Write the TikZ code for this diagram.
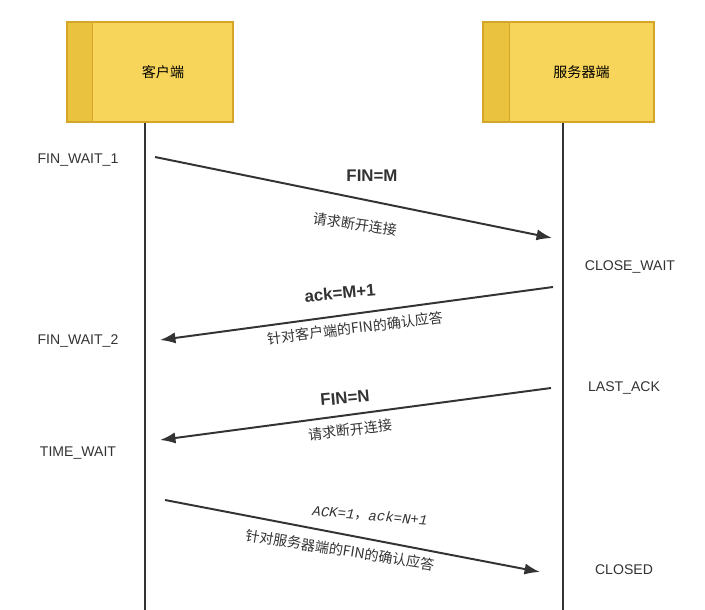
\documentclass[tikz,border=0pt]{standalone}
\usepackage{fontspec}
\setmainfont{Liberation Sans}
\newfontfamily\cjk{Noto Sans CJK SC}
\newfontfamily\monoit{Liberation Mono}
\usetikzlibrary{positioning, arrows.meta}
\definecolor{boxfill}{HTML}{F7D55A}
\definecolor{boxedge}{HTML}{D4A528}
\definecolor{stripe}{HTML}{EBC23F}
\definecolor{ink}{HTML}{333333}
\tikzset{
  party/.style={draw=boxedge, fill=boxfill, line width=0.8pt, minimum width=4.15cm, minimum height=2.5cm, inner sep=0pt, font=\cjk},
  lifeline/.style={draw=ink, line width=0.9pt},
  msg/.style={draw=ink, line width=1.4pt, -{Latex[length=11pt,width=8pt]}},
  state/.style={font=\normalsize, text=ink},
  tag/.style={font=\bfseries\large, text=ink},
  note/.style={font=\cjk\normalsize, text=ink}
}
\begin{document}
\begin{tikzpicture}[x=0.025cm, y=-0.025cm]
  \useasboundingbox (0,0) rectangle (705,610);
  % parties
  \node[party] (client) at (150,72) {\hspace{0.65cm}客户端};
  \node[party, minimum width=4.275cm] (server) at (568.5,72) {\hspace{0.65cm}服务器端};
  \fill[stripe] ([xshift=0.8pt,yshift=-0.8pt]client.north west) rectangle ([xshift=0.65cm,yshift=0.8pt]client.south west);
  \fill[stripe] ([xshift=0.8pt,yshift=-0.8pt]server.north west) rectangle ([xshift=0.675cm,yshift=0.8pt]server.south west);
  \draw[boxedge, line width=0.8pt] ([xshift=0.65cm]client.north west) -- ([xshift=0.65cm]client.south west);
  \draw[boxedge, line width=0.8pt] ([xshift=0.675cm]server.north west) -- ([xshift=0.675cm]server.south west);
  \draw[party, fill=none] (client.north west) rectangle (client.south east);
  \draw[party, fill=none] (server.north west) rectangle (server.south east);
  % lifelines
  \coordinate (cend) at (145,610);
  \coordinate (send) at (563,610);
  \draw[lifeline] (client.south -| cend) -- (cend);
  \draw[lifeline] (server.south -| send) -- (send);
  % states
  \node[state] (fw1) at (78,160) {FIN\_WAIT\_1};
  \node[state] (cw) at (630,267) {CLOSE\_WAIT};
  \node[state] (fw2) at (78,341) {FIN\_WAIT\_2};
  \node[state] (la) at (624,388) {LAST\_ACK};
  \node[state] (tw) at (78,453) {TIME\_WAIT};
  \node[state] (cl) at (624,570) {CLOSED};
  % messages
  \coordinate (m1a) at (155,157);
  \coordinate (m1b) at (552,238);
  \coordinate (m2a) at (553,287);
  \coordinate (m2b) at (160,340);
  \coordinate (m3a) at (551,388);
  \coordinate (m3b) at (160,440);
  \coordinate (m4a) at (165,500);
  \coordinate (m4b) at (540,572);
  \draw[msg] (m1a) -- (m1b);
  \draw[msg] (m2a) -- (m2b);
  \draw[msg] (m3a) -- (m3b);
  \draw[msg] (m4a) -- (m4b);
  \node[tag] at (372,176) {FIN=M};
  \node[note, rotate=-8] at (355,224) {请求断开连接};
  \node[tag, rotate=5] at (340,293) {ack=M+1};
  \node[note, rotate=7] at (355,328) {针对客户端的FIN的确认应答};
  \node[tag, rotate=5] at (345,398) {FIN=N};
  \node[note, rotate=7] at (350,430) {请求断开连接};
  \node[font=\monoit\itshape, text=ink, rotate=-5] at (370,516) {ACK=1{\cjk ，}ack=N+1};
  \node[note, rotate=-9] at (340,550) {针对服务器端的FIN的确认应答};
\end{tikzpicture}
\end{document}
